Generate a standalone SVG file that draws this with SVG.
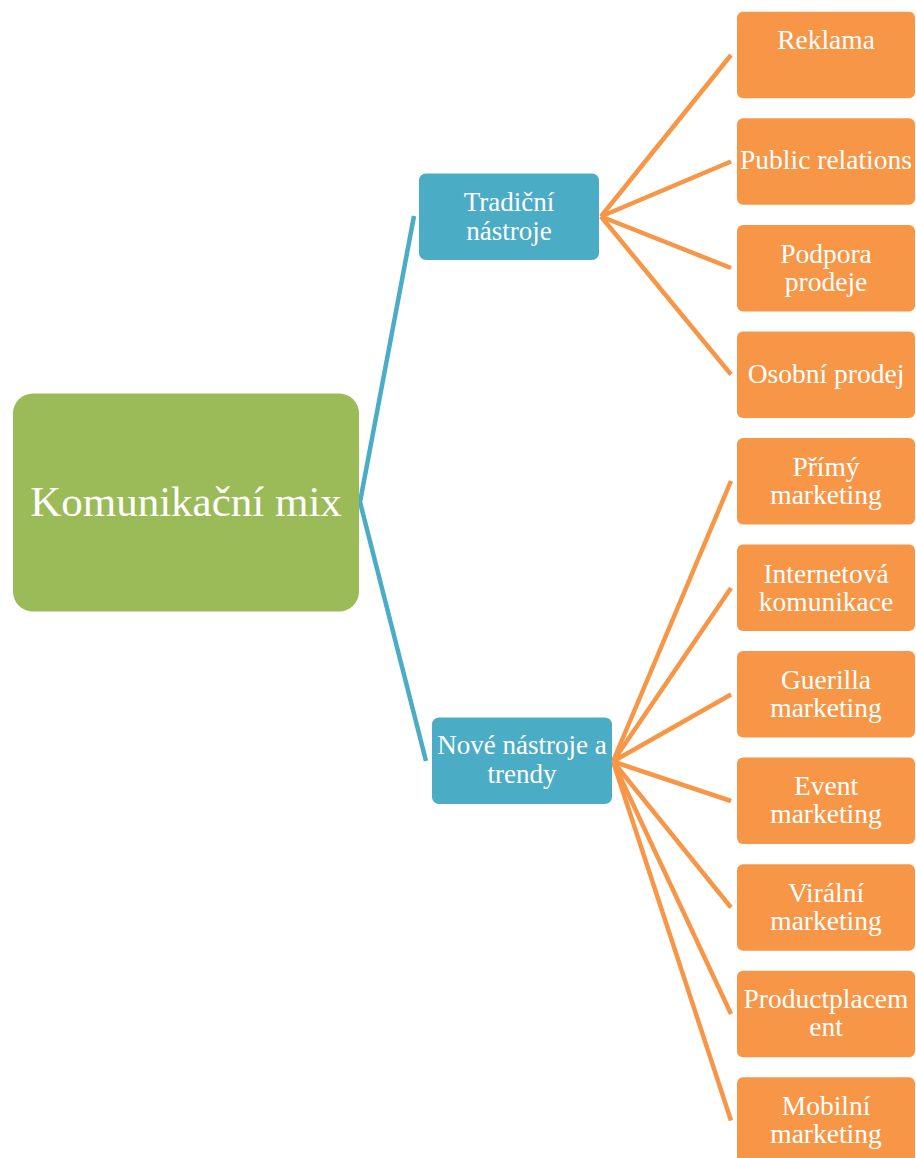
<svg xmlns="http://www.w3.org/2000/svg" width="916" height="1158" viewBox="0 0 916 1158">
<style>
.bl{stroke:#4BACC6;stroke-width:4.5;fill:none;stroke-linecap:butt}
.or{stroke:#F79646;stroke-width:4.5;fill:none}
.t{font-family:"Liberation Serif","Times New Roman",serif;fill:#FFFFFF;text-anchor:middle}
.s{font-size:27.5px}
.m{font-size:27px}
.o{fill:#F79646}
.b{fill:#4BACC6}
</style>
<rect width="916" height="1158" fill="#FFFFFF"/>
<g id="connectors">
<polyline class="bl" points="414,216 360,502 426,761"/>
<line class="or" x1="601" y1="216.5" x2="731" y2="55"/>
<line class="or" x1="601" y1="216.5" x2="731" y2="161.5"/>
<line class="or" x1="601" y1="216.5" x2="731" y2="268"/>
<line class="or" x1="601" y1="216.5" x2="731" y2="374.5"/>
<line class="or" x1="613" y1="761.5" x2="731" y2="481"/>
<line class="or" x1="613" y1="761.5" x2="731" y2="588"/>
<line class="or" x1="613" y1="761.5" x2="731" y2="694.5"/>
<line class="or" x1="613" y1="761.5" x2="731" y2="801"/>
<line class="or" x1="613" y1="761.5" x2="731" y2="907.5"/>
<line class="or" x1="613" y1="761.5" x2="731" y2="1014"/>
<line class="or" x1="613" y1="761.5" x2="731" y2="1120.5"/>
</g>
<g id="root">
<rect x="13" y="393.5" width="346" height="218" rx="20" fill="#9BBB59"/>
<text class="t" x="186" y="516" font-size="43">Komunikační mix</text>
</g>
<g id="tradicni">
<rect class="b" x="419" y="173.5" width="180" height="86.5" rx="7"/>
<text class="t m" x="509" y="211">Tradiční</text>
<text class="t m" x="509" y="240">nástroje</text>
</g>
<g id="nove">
<rect class="b" x="432" y="717.5" width="180" height="86.5" rx="7"/>
<text class="t m" x="522" y="754">Nové nástroje a</text>
<text class="t m" x="522" y="782.5">trendy</text>
</g>
<g id="reklama">
<rect class="o" x="737" y="11.8" width="178" height="86.5" rx="6"/>
<text class="t s" x="826" y="49">Reklama</text>
</g>
<g id="public-relations">
<rect class="o" x="737" y="118.3" width="178" height="86.5" rx="6"/>
<text class="t s" x="826" y="169">Public relations</text>
</g>
<g id="podpora-prodeje">
<rect class="o" x="737" y="224.9" width="178" height="86.5" rx="6"/>
<text class="t s" x="826" y="262.5">Podpora</text>
<text class="t s" x="826" y="290.5">prodeje</text>
</g>
<g id="osobni-prodej">
<rect class="o" x="737" y="331.4" width="178" height="86.5" rx="6"/>
<text class="t s" x="826" y="383">Osobní prodej</text>
</g>
<g id="primy-marketing">
<rect class="o" x="737" y="438" width="178" height="86.5" rx="6"/>
<text class="t s" x="826" y="476">Přímý</text>
<text class="t s" x="826" y="504">marketing</text>
</g>
<g id="internetova-komunikace">
<rect class="o" x="737" y="544.5" width="178" height="86.5" rx="6"/>
<text class="t s" x="826" y="582.5">Internetová</text>
<text class="t s" x="826" y="610.5">komunikace</text>
</g>
<g id="guerilla-marketing">
<rect class="o" x="737" y="651.1" width="178" height="86.5" rx="6"/>
<text class="t s" x="826" y="688.5">Guerilla</text>
<text class="t s" x="826" y="716.5">marketing</text>
</g>
<g id="event-marketing">
<rect class="o" x="737" y="757.6" width="178" height="86.5" rx="6"/>
<text class="t s" x="826" y="795">Event</text>
<text class="t s" x="826" y="823">marketing</text>
</g>
<g id="viralni-marketing">
<rect class="o" x="737" y="864.2" width="178" height="86.5" rx="6"/>
<text class="t s" x="826" y="901.5">Virální</text>
<text class="t s" x="826" y="929.5">marketing</text>
</g>
<g id="productplacement">
<rect class="o" x="737" y="970.7" width="178" height="86.5" rx="6"/>
<text class="t s" x="826" y="1008">Productplacem</text>
<text class="t s" x="826" y="1036">ent</text>
</g>
<g id="mobilni-marketing">
<rect class="o" x="737" y="1077.3" width="178" height="86.5" rx="6"/>
<text class="t s" x="826" y="1115">Mobilní</text>
<text class="t s" x="826" y="1143">marketing</text>
</g>
</svg>
